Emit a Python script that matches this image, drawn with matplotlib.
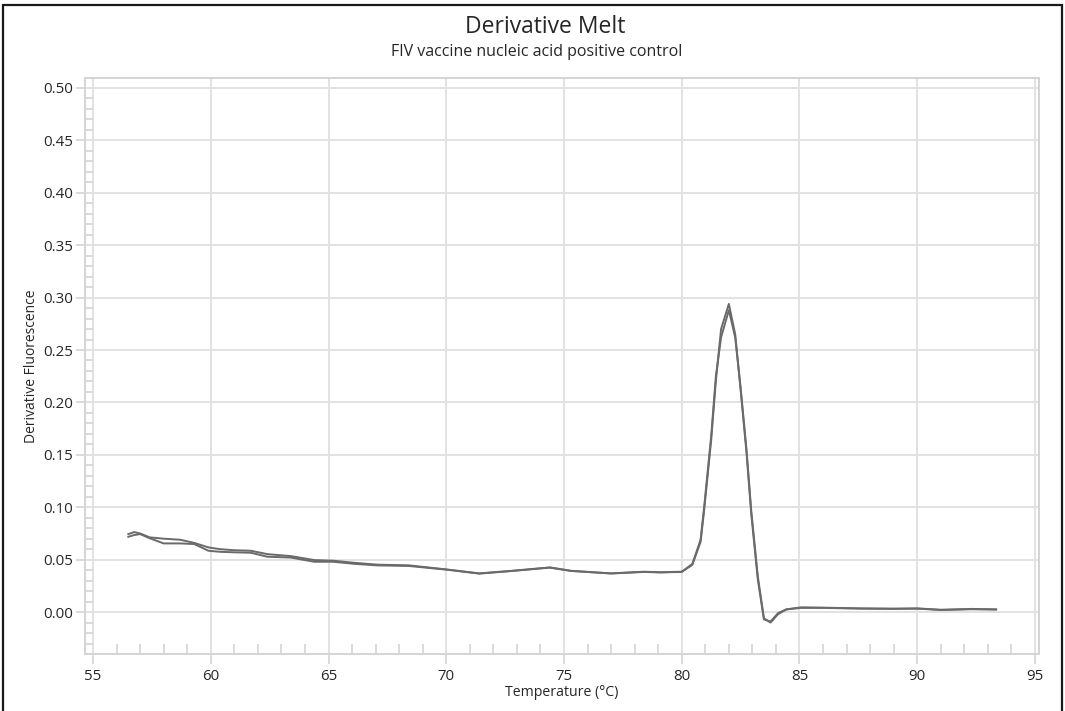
import matplotlib
matplotlib.use("Agg")
import matplotlib.pyplot as plt
from matplotlib.patches import Rectangle
from matplotlib.ticker import MultipleLocator

plt.rcParams['font.family'] = ['Open Sans', 'DejaVu Sans']

# Data
temperature = [56.5, 56.75, 57.0, 57.4, 58.0, 58.7, 59.3, 59.9, 60.4, 61.0,
               61.7, 62.4, 63.4, 64.4, 65.2, 66.1, 67.1, 68.4, 70.0, 71.4,
               72.8, 74.4, 75.3, 77.0, 78.4, 79.1, 80.0, 80.45, 80.8, 80.95,
               81.25, 81.45, 81.67, 82.0, 82.27, 82.5, 82.75, 82.95, 83.23, 83.49,
               83.77, 84.09, 84.44, 85.07, 86.0, 87.6, 89.0, 90.0, 91.0, 92.3,
               93.35]
replicate_a = [0.0744, 0.0763, 0.075, 0.0713, 0.070, 0.069, 0.066, 0.0617, 0.060, 0.059,
               0.0585, 0.0553, 0.0534, 0.0496, 0.049, 0.047, 0.0452, 0.0446, 0.0407, 0.0369,
               0.0394, 0.0426, 0.0394, 0.0369, 0.0385, 0.0380, 0.0385, 0.045, 0.067, 0.097,
               0.164, 0.221, 0.270, 0.294, 0.265, 0.212, 0.152, 0.094, 0.031, -0.007,
               -0.009, -0.001, 0.0026, 0.0045, 0.0042, 0.0035, 0.0033, 0.0035, 0.0022, 0.0030,
               0.0026]
replicate_b = [0.0718, 0.0735, 0.0744, 0.0705, 0.0655, 0.0655, 0.0649, 0.0585, 0.0575, 0.057,
               0.0566, 0.0528, 0.052, 0.048, 0.048, 0.046, 0.0445, 0.0440, 0.0405, 0.0367,
               0.0392, 0.0424, 0.0392, 0.0368, 0.0383, 0.0378, 0.0383, 0.046, 0.069, 0.100,
               0.168, 0.225, 0.262, 0.288, 0.262, 0.214, 0.155, 0.097, 0.034, -0.006,
               -0.010, -0.002, 0.0025, 0.0040, 0.0040, 0.0033, 0.0030, 0.0033, 0.0020, 0.0027,
               0.0024]
x_ticks = [55, 60, 65, 70, 75, 80, 85, 90, 95]
y_ticks = [0.00, 0.05, 0.10, 0.15, 0.20, 0.25, 0.30, 0.35, 0.40, 0.45, 0.50]

title = "Derivative Melt"
subtitle = "FIV vaccine nucleic acid positive control"

fig = plt.figure(figsize=(10.65, 7.11), dpi=100)
ax = fig.add_axes([85/1065, 1 - 654/711, (1039 - 85)/1065, (654 - 78)/711])

grid_c = '#e2e2e2'
spine_c = '#d4d4d4'
text_c = '#262626'

ax.plot(temperature, replicate_b, color='#6a6a6a', lw=1.4, zorder=3)
ax.plot(temperature, replicate_a, color='#6a6a6a', lw=1.4, zorder=3)

ax.set_xlim(54.66, 95.17)
ax.set_ylim(-0.040, 0.5095)
ax.set_xticks(x_ticks)
ax.set_yticks(y_ticks)
ax.set_yticklabels([f"{v:.2f}" for v in y_ticks])
ax.xaxis.set_minor_locator(MultipleLocator(1))
ax.yaxis.set_minor_locator(MultipleLocator(0.01))

ax.grid(True, which='major', color=grid_c, lw=1.4, zorder=0)
for s in ax.spines.values():
    s.set_color(spine_c)
    s.set_linewidth(1.4)

ax.tick_params(axis='both', which='major', direction='out', color=spine_c,
               width=1.2, labelsize=10.8, labelcolor=text_c)
ax.tick_params(axis='y', which='major', length=6.5, pad=2)
ax.tick_params(axis='x', which='major', length=7.5, pad=3)
ax.tick_params(axis='x', which='minor', direction='in', length=7.5, width=1.2, color=spine_c)
ax.tick_params(axis='y', which='minor', direction='in', length=5.8, width=1.2, color=spine_c)

ax.set_xlabel("Temperature (°C)", fontsize=10.2, color=text_c, labelpad=1)
ax.set_ylabel("Derivative Fluorescence", fontsize=10, color=text_c, labelpad=3)

fig.text(545/1065, 1 - 27/711, title, ha='center', va='center', fontsize=16.5,
         color=text_c)
fig.text(537/1065, 1 - 52/711, subtitle, ha='center', va='center', fontsize=11.5,
         color=text_c)

fig.patches.append(Rectangle((3/1065, -0.02), (1062 - 3)/1065, 1.02 - 5/711,
                             transform=fig.transFigure, fill=False,
                             edgecolor='#1a1a1a', lw=1.6))

fig.savefig("out.png", dpi=100)
